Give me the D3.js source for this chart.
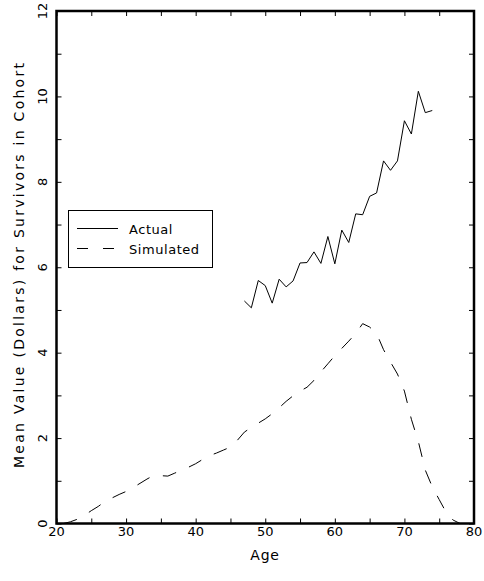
<!DOCTYPE html>
<html>
<head>
<meta charset="utf-8">
<script src="https://cdn.jsdelivr.net/npm/d3@7"></script>
<style>
  html, body { margin: 0; padding: 0; background: #fff; }
  svg { display: block; }
  text { font-family: "DejaVu Sans ExtraLight", "DejaVu Sans", sans-serif; fill: #000; }
</style>
</head>
<body>
<svg id="chart" width="484" height="581"></svg>
<script>
// Mean value per surviving cohort member, by age
const actualAges = [47,48,49,50,51,52,53,54,55,56,57,58,59,60,61,62,63,64,65,66,67,68,69,70,71,72,73,74];
const actualValues = [5.21,5.05,5.69,5.57,5.16,5.72,5.54,5.68,6.10,6.11,6.36,6.09,6.72,6.08,6.87,6.58,7.25,7.23,7.66,7.74,8.49,8.27,8.49,9.43,9.12,10.12,9.62,9.67];

const simulatedAges = [21,22,23,24,25,26,27,28,29,30,31,32,33,34,35,36,37,38,39,40,41,42,43,44,45,46,47,48,49,50,51,52,53,54,55,56,57,58,59,60,61,62,63,64,65,66,67,68,69,70,71,72,73,74,75,76,77,78];
const simulatedValues = [0.00,0.04,0.10,0.19,0.30,0.40,0.52,0.60,0.68,0.75,0.84,0.94,1.04,1.13,1.12,1.11,1.18,1.25,1.32,1.40,1.50,1.59,1.65,1.72,1.79,1.95,2.14,2.25,2.35,2.45,2.57,2.71,2.86,2.99,3.10,3.19,3.35,3.55,3.74,3.93,4.10,4.27,4.45,4.68,4.60,4.45,4.07,3.78,3.50,3.10,2.44,1.92,1.25,0.86,0.56,0.26,0.08,0.00];

const xMajorTicks = [20,30,40,50,60,70,80];
const xMinorTicks = [25,35,45,55,65,75];
const yMajorTicks = [0,2,4,6,8,10,12];
const yMinorTicks = [1,3,5,7,9,11];

const seriesNames = ["Actual", "Simulated"];
const xTitle = "Age";
const yTitle = "Mean Value (Dollars) for Survivors in Cohort";

const svg = d3.select("#chart");
const plotLeft = 56.5, plotRight = 474, plotTop = 11, plotBottom = 523.5;

const x = d3.scaleLinear().domain([20, 80]).range([plotLeft, plotRight]);
const y = d3.scaleLinear().domain([0, 12]).range([plotBottom, plotTop]);

const tickLen = 5;
const fontSize = 13;

// inward-pointing ticks on all four sides
function tickAxis(axisFn, scale, values, transform) {
  const g = svg.append("g")
    .attr("transform", transform)
    .call(axisFn(scale).tickValues(values).tickSize(-tickLen).tickFormat(""));
  g.select(".domain").remove();
  g.selectAll(".tick line").attr("stroke", "#000").attr("stroke-width", 1);
  return g;
}
const xAll = xMajorTicks.concat(xMinorTicks);
const yAll = yMajorTicks.concat(yMinorTicks);
tickAxis(d3.axisBottom, x, xAll, `translate(0,${plotBottom})`);
tickAxis(d3.axisTop, x, xAll, `translate(0,${plotTop})`);
tickAxis(d3.axisLeft, y, yAll, `translate(${plotLeft},0)`);
tickAxis(d3.axisRight, y, yAll, `translate(${plotRight},0)`);

// x tick labels
svg.append("g").selectAll("text")
  .data(xMajorTicks)
  .join("text")
  .attr("x", d => x(d))
  .attr("y", 535.5)
  .attr("text-anchor", "middle")
  .attr("font-size", fontSize)
  .text(d => d);

// y tick labels, rotated
svg.append("g").selectAll("text")
  .data(yMajorTicks)
  .join("text")
  .attr("transform", d => `translate(46.5,${y(d)}) rotate(-90)`)
  .attr("text-anchor", "middle")
  .attr("font-size", fontSize)
  .text(d => d);

// axis titles
svg.append("text")
  .attr("x", 265)
  .attr("y", 560)
  .attr("text-anchor", "middle")
  .attr("font-size", 14)
  .attr("letter-spacing", 0.8)
  .text(xTitle);

svg.append("text")
  .attr("transform", `translate(24,265.5) rotate(-90)`)
  .attr("text-anchor", "middle")
  .attr("font-size", 14)
  .attr("textLength", 405)
  .attr("lengthAdjust", "spacing")
  .text(yTitle);

// series lines
const line = d3.line().x(d => x(d[0])).y(d => y(d[1]));
const plot = svg.append("g");
plot.append("path")
  .datum(actualAges.map((a, i) => [a, actualValues[i]]))
  .attr("d", line)
  .attr("fill", "none")
  .attr("stroke", "#000")
  .attr("stroke-width", 1);

plot.append("path")
  .datum(simulatedAges.map((a, i) => [a, simulatedValues[i]]))
  .attr("d", line)
  .attr("fill", "none")
  .attr("stroke", "#000")
  .attr("stroke-width", 1)
  .attr("stroke-dasharray", "14,14");

// plot frame
svg.append("rect")
  .attr("x", plotLeft).attr("y", plotTop)
  .attr("width", plotRight - plotLeft).attr("height", plotBottom - plotTop)
  .attr("fill", "none")
  .attr("stroke", "#000")
  .attr("stroke-width", 2.5);

// legend
const legend = svg.append("g");
legend.append("rect")
  .attr("x", 68.5).attr("y", 210.5)
  .attr("width", 144).attr("height", 57)
  .attr("fill", "#fff")
  .attr("stroke", "#000")
  .attr("stroke-width", 1);
const legendRows = [
  { name: seriesNames[0], dash: null, yy: 228.5 },
  { name: seriesNames[1], dash: "11,15", yy: 248.5 }
];
legendRows.forEach(r => {
  legend.append("line")
    .attr("x1", 77).attr("x2", 118)
    .attr("y1", r.yy).attr("y2", r.yy)
    .attr("stroke", "#000").attr("stroke-width", 1)
    .attr("stroke-dasharray", r.dash);
  legend.append("text")
    .attr("x", 129).attr("y", r.yy + 5)
    .attr("font-size", fontSize)
    .attr("letter-spacing", 0.55)
    .text(r.name);
});
</script>
</body>
</html>
